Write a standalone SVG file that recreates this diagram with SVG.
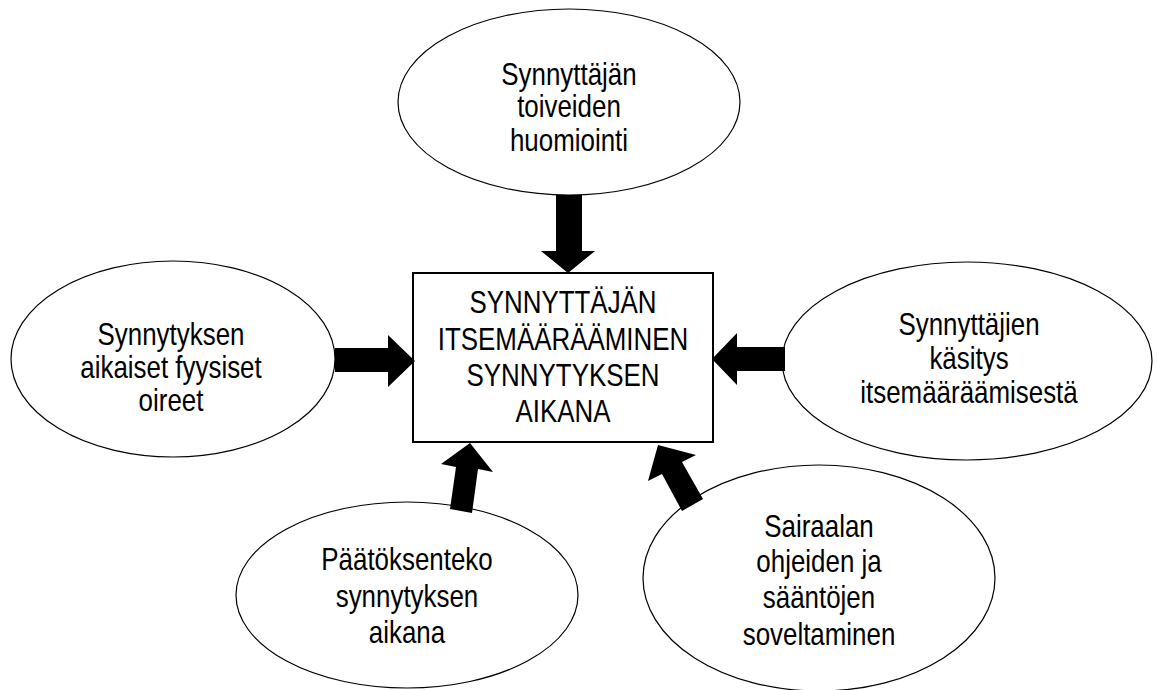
<svg xmlns="http://www.w3.org/2000/svg" width="1157" height="690" viewBox="0 0 1157 690">
<style>
.bg{fill:#fff}
.node ellipse{fill:#fff;stroke:#000;stroke-width:1.2}
.node rect{fill:#fff;stroke:#000;stroke-width:2}
.node text{font-family:"Liberation Sans",Arial,sans-serif;font-size:32px;fill:#000;text-anchor:middle}
.arrow{fill:#000;stroke:none}
</style>
<rect class="bg" x="0" y="0" width="1157" height="690"/>
<g id="node-top" class="node">
<ellipse cx="569" cy="102" rx="171" ry="93"/>
<text transform="translate(569,0) scale(0.81,1)"><tspan x="0" y="85">Synnyttäjän</tspan><tspan x="0" y="117">toiveiden</tspan><tspan x="0" y="151">huomiointi</tspan></text>
</g>
<g id="node-left" class="node">
<ellipse cx="173" cy="359" rx="162" ry="98"/>
<text transform="translate(171,0) scale(0.81,1)"><tspan x="0" y="345">Synnytyksen</tspan><tspan x="0" y="378">aikaiset fyysiset</tspan><tspan x="0" y="411">oireet</tspan></text>
</g>
<g id="node-right" class="node">
<ellipse cx="967" cy="361" rx="185" ry="99"/>
<text transform="translate(969,0) scale(0.81,1)"><tspan x="0" y="335">Synnyttäjien</tspan><tspan x="0" y="369">käsitys</tspan><tspan x="0" y="403">itsemääräämisestä</tspan></text>
</g>
<g id="node-bottom-left" class="node">
<ellipse cx="407" cy="595" rx="171" ry="93"/>
<text transform="translate(407,0) scale(0.81,1)"><tspan x="0" y="570">Päätöksenteko</tspan><tspan x="0" y="607">synnytyksen</tspan><tspan x="0" y="643">aikana</tspan></text>
</g>
<g id="node-bottom-right" class="node">
<ellipse cx="819" cy="578" rx="176" ry="113"/>
<text transform="translate(819,0) scale(0.81,1)"><tspan x="0" y="537">Sairaalan</tspan><tspan x="0" y="572">ohjeiden ja</tspan><tspan x="0" y="608">sääntöjen</tspan><tspan x="0" y="645">soveltaminen</tspan></text>
</g>
<g id="node-center" class="node">
<rect x="413" y="273" width="300" height="169"/>
<text transform="translate(563,0) scale(0.81,1)"><tspan x="0" y="313">SYNNYTTÄJÄN</tspan><tspan x="0" y="350">ITSEMÄÄRÄÄMINEN</tspan><tspan x="0" y="386">SYNNYTYKSEN</tspan><tspan x="0" y="422">AIKANA</tspan></text>
</g>
<g id="connectors">
<polygon class="arrow" points="556,195 582,195 582,251 595,251 568,273 541,251 556,251"/>
<polygon class="arrow" points="335,348 388,348 388,335 415,361 388,387 388,372 335,372"/>
<polygon class="arrow" points="712,359 737,333 737,347 785,347 785,371 737,371 737,385"/>
<polygon class="arrow" points="470,443 493,472 478,469 472,513 450,509 456,467 441,464"/>
<polygon class="arrow" points="658,445 696,455 682,462 703,499 682,511 662,474 648,481"/>
</g>
</svg>
